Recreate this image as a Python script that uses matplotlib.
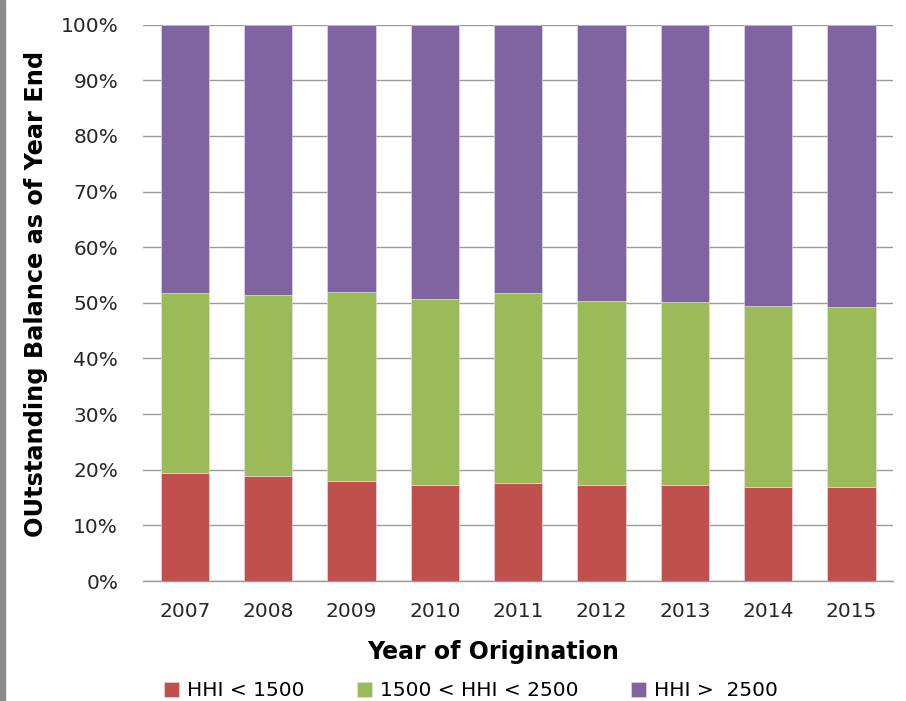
import numpy as np
import matplotlib
matplotlib.use("Agg")
import matplotlib.pyplot as plt
from matplotlib.patches import Rectangle

years = ["2007", "2008", "2009", "2010", "2011", "2012", "2013", "2014", "2015"]
# share of outstanding balance by market concentration (percent)
hhi_low = [19.5, 18.9, 17.9, 17.3, 17.6, 17.3, 17.3, 17.0, 17.0]
hhi_mid = [32.2, 32.5, 34.1, 33.4, 34.1, 33.1, 32.8, 32.5, 32.2]
hhi_high = [48.3, 48.6, 48.0, 49.3, 48.3, 49.6, 49.9, 50.5, 50.8]
labels = ["HHI < 1500", "1500 < HHI < 2500", "HHI >  2500"]
colors = ["#C0504D", "#9BBB59", "#8064A2"]
yticks = [0, 10, 20, 30, 40, 50, 60, 70, 80, 90, 100]

plt.rcParams["font.family"] = ["DejaVu Sans"]

fig = plt.figure(figsize=(9.06, 7.01), dpi=100)
ax = fig.add_axes([0.158, 0.171, 0.828, 0.794])

x = np.arange(len(years))
bottom = np.zeros(len(years))
for vals, lab, col in zip([hhi_low, hhi_mid, hhi_high], labels, colors):
    ax.bar(x, vals, width=0.58, bottom=bottom, color=col, label=lab,
           edgecolor="#E8E0EE", linewidth=0.4, zorder=3)
    bottom += np.array(vals)

ax.set_xlim(-0.5, len(years) - 0.5)
ax.set_ylim(0, 100)
ax.set_yticks(yticks)
ax.set_yticklabels([f"{t}%" for t in yticks], color="#262626")
ax.set_xticks(x)
ax.set_xticklabels(years, color="#262626")
ax.tick_params(axis="y", length=0, pad=18, labelsize=14.5)
ax.tick_params(axis="x", length=0, pad=15, labelsize=14.5)
ax.yaxis.grid(True, color="#9A9A9A", linewidth=1.0, zorder=0)
ax.set_axisbelow(True)
for side in ["left", "right", "top"]:
    ax.spines[side].set_visible(False)
ax.spines["bottom"].set_color("#9A9A9A")
ax.spines["bottom"].set_linewidth(1.0)

ax.set_ylabel("OUtstanding Balance as of Year End", fontsize=17.3,
              fontweight="bold")
ax.yaxis.set_label_coords(-0.127, 0.516)
ax.set_xlabel("Year of Origination", fontsize=17, fontweight="bold")
ax.xaxis.set_label_coords(0.467, -0.105)

ax.legend(loc="center", bbox_to_anchor=(0.437, -0.197), ncol=3, frameon=False,
          fontsize=14.5, handlelength=0.75, handleheight=0.75, handletextpad=0.4,
          columnspacing=2.6)

# grey strip along the left edge
fig.patches.append(Rectangle((0, 0), 0.005, 1, transform=fig.transFigure,
                             color="#8C8C8C", zorder=0))

fig.savefig("out.png", dpi=100)
